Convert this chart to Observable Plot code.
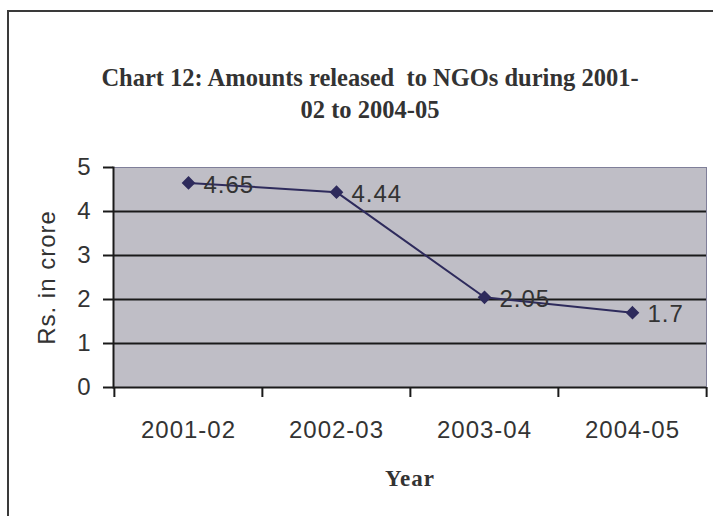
<!DOCTYPE html>
<html>
<head>
<meta charset="utf-8">
<script src="https://cdn.jsdelivr.net/npm/d3@7"></script>
<script src="https://cdn.jsdelivr.net/npm/@observablehq/plot@0.6"></script>
<style>
  html, body { margin: 0; padding: 0; background: #ffffff; overflow: hidden; }
  #page { position: relative; width: 713px; height: 516px; }
  #box { position: absolute; left: 7px; top: 10px; width: 720px; height: 520px;
         border: 2px solid #3a3a3a; box-sizing: border-box; }
  #title { position: absolute; left: 40px; width: 660px; top: 62px; text-align: center;
           font-family: "Liberation Serif", "Times New Roman", serif; font-weight: bold;
           font-size: 24.5px; line-height: 32px; color: #333; }
  #chart { position: absolute; left: 0; top: 140px; }
  #chart svg text { letter-spacing: 1px; }
</style>
</head>
<body>
<div id="page">
  <div id="box"></div>
  <div id="title">Chart 12: Amounts released&nbsp; to NGOs during 2001-<br>02 to 2004-05</div>
  <div id="chart"></div>
</div>
<script>
// Amounts released to NGOs, Rs. in crore
const years = ["2001-02", "2002-03", "2003-04", "2004-05"];
const amounts = [4.65, 4.44, 2.05, 1.7];
const yTicks = [0, 1, 2, 3, 4, 5];
const gridValues = [1, 2, 3, 4];

const data = years.map((year, i) => ({year, amount: amounts[i]}));

const width = 713, height = 376;
const marginLeft = 113, marginRight = 7, marginTop = 27, marginBottom = 129;
const bandWidth = (width - marginLeft - marginRight) / years.length;
const ink = "#2e2b5c";
const textColor = "#333333";

const chart = Plot.plot({
  width, height, marginLeft, marginRight, marginTop, marginBottom,
  style: {fontFamily: "'Liberation Sans', Arial, sans-serif", background: "transparent"},
  x: {type: "band", domain: years, padding: 0, axis: null},
  y: {domain: [0, 5], axis: null},
  marks: [
    Plot.frame({fill: "#bfbec6", stroke: "#7f7f99", strokeWidth: 1}),
    Plot.ruleY(gridValues, {stroke: "#1a1a1a", strokeWidth: 2}),
    // axis lines
    Plot.ruleY([0], {stroke: "#1a1a1a", strokeWidth: 2}),
    Plot.frame({anchor: "left", stroke: "#1a1a1a", strokeWidth: 2}),
    // y axis ticks and labels
    Plot.axisY({ticks: yTicks, tickFormat: d3.format("d"), tickSize: 10, tickPadding: 12,
                fontSize: 24, color: textColor, stroke: "#1a1a1a", strokeWidth: 2, label: null}),
    // x axis ticks at category boundaries
    Plot.axisX({ticks: years, tickSize: 10, dx: -bandWidth / 2, fill: "none",
                stroke: "#1a1a1a", strokeWidth: 2, label: null}),
    Plot.axisX({ticks: years.slice(-1), tickSize: 10, dx: bandWidth / 2, fill: "none",
                stroke: "#1a1a1a", strokeWidth: 2, label: null}),
    // x tick labels
    Plot.axisX({ticks: years, tickSize: 0, tickPadding: 33, fontSize: 24, fill: textColor, label: null}),
    // series
    Plot.line(data, {x: "year", y: "amount", stroke: ink, strokeWidth: 2}),
    Plot.dot(data, {x: "year", y: "amount", symbol: "diamond2", r: 5.2, fill: ink, stroke: ink}),
    Plot.text(data, {x: "year", y: "amount", text: d => String(d.amount), textAnchor: "start",
                     dx: 15, dy: 2, fontSize: 24, fill: textColor}),
    // axis titles
    Plot.text(["Rs. in crore"], {frameAnchor: "left", textAnchor: "middle", rotate: -90, dx: -66,
                                 fontSize: 24, fill: textColor}),
    Plot.text(["Year"], {frameAnchor: "bottom", dy: 98, fontSize: 23, fontWeight: "bold", fill: textColor,
                         fontFamily: "'Liberation Serif', 'Times New Roman', serif"})
  ]
});

document.getElementById("chart").appendChild(chart);
</script>
</body>
</html>
